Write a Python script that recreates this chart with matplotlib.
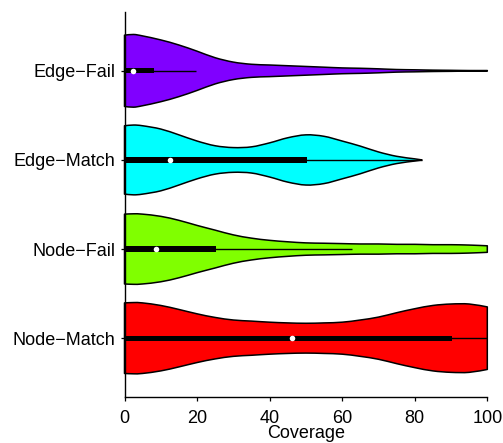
import matplotlib
matplotlib.use("Agg")
import matplotlib.pyplot as plt
from matplotlib.patches import Rectangle, PathPatch
from matplotlib.path import Path
import numpy as np

plt.rcParams['font.family'] = ['Liberation Sans', 'DejaVu Sans']

# ---------------- data ----------------
categories = ['Node\u2212Match', 'Node\u2212Fail', 'Edge\u2212Match', 'Edge\u2212Fail']
colors = ['#FF0000', '#80FF00', '#00FFFF', '#8000FF']

# coverage grid where violin density (relative to peak) was read
grid_full = [0, 2.5, 5, 10, 15, 20, 25, 30, 35, 40, 45, 50, 55, 60, 65, 70, 75, 80, 85, 90, 95, 100]
grid_edge_match = [0, 2.5, 5, 10, 15, 20, 25, 30, 35, 40, 45, 50, 55, 60, 65, 70, 75, 80, 82]

dens_node_match = [0.97, 0.98, 0.97, 0.90, 0.79, 0.67, 0.57, 0.50, 0.47, 0.44, 0.42,
                   0.41, 0.42, 0.44, 0.50, 0.58, 0.70, 0.81, 0.90, 0.94, 0.94, 0.86]
dens_node_fail = [0.96, 0.97, 0.96, 0.90, 0.79, 0.65, 0.52, 0.39, 0.30, 0.24, 0.20,
                  0.17, 0.16, 0.15, 0.14, 0.14, 0.13, 0.13, 0.12, 0.12, 0.11, 0.09]
dens_edge_match = [0.94, 0.96, 0.94, 0.85, 0.69, 0.52, 0.39, 0.34, 0.36, 0.47, 0.61,
                   0.69, 0.65, 0.52, 0.38, 0.22, 0.10, 0.03, 0.0]
dens_edge_fail = [0.98, 1.00, 0.96, 0.85, 0.71, 0.54, 0.36, 0.24, 0.18, 0.16, 0.14,
                  0.12, 0.10, 0.08, 0.07, 0.055, 0.036, 0.028, 0.019, 0.014, 0.008, 0.008]

grids = [grid_full, grid_full, grid_edge_match, grid_full]
densities = [dens_node_match, dens_node_fail, dens_edge_match, dens_edge_fail]

# box statistics: lower whisker, q1, median, q3, upper whisker
whisk_lo = [0, 0, 0, 0]
q1 = [0, 0, 0, 0]
medians = [46.3, 8.6, 12.5, 2.3]
q3 = [90.4, 25.1, 50.2, 8.1]
whisk_hi = [100, 62.7, 82, 19.6]

xticks = [0, 20, 40, 60, 80, 100]
xlabel = 'Coverage'

# ---------------- styling ----------------
VIOLIN_HW = 0.408   # half-width of a violin at peak density (category units)
BOX_HH = 0.030      # half-height of the box
FS = 13


def smooth_segments(pts):
    """Cubic Bezier (Catmull-Rom) path pieces through the given points."""
    pts = np.asarray(pts, dtype=float)
    n = len(pts)
    verts, codes = [], []
    for i in range(n - 1):
        p0 = pts[i - 1] if i > 0 else pts[i]
        p1 = pts[i]
        p2 = pts[i + 1]
        p3 = pts[i + 2] if i + 2 < n else pts[i + 1]
        c1 = p1 + (p2 - p0) / 6.0
        c2 = p2 - (p3 - p1) / 6.0
        verts += [tuple(c1), tuple(c2), tuple(p2)]
        codes += [Path.CURVE4] * 3
    return verts, codes


def violin_path(g, hw, pos):
    top = np.column_stack([g, pos + hw])
    bot = np.column_stack([g[::-1], pos - hw[::-1]])
    verts = [tuple(top[0])]
    codes = [Path.MOVETO]
    v, c = smooth_segments(top)
    verts += v
    codes += c
    verts.append(tuple(bot[0]))
    codes.append(Path.LINETO)
    v, c = smooth_segments(bot)
    verts += v
    codes += c
    verts.append(tuple(top[0]))
    codes.append(Path.CLOSEPOLY)
    return Path(verts, codes)


fig = plt.figure(figsize=(5.03, 4.43), dpi=100)
ax = fig.add_axes([124.5 / 503, 46 / 443, 362.8 / 503, 385 / 443])

positions = np.arange(1, len(categories) + 1)
for pos, g, d, c, wl, a, m, b, wh in zip(positions, grids, densities, colors,
                                          whisk_lo, q1, medians, q3, whisk_hi):
    g = np.asarray(g, dtype=float)
    hw = np.asarray(d, dtype=float) * VIOLIN_HW
    ax.add_patch(PathPatch(violin_path(g, hw, pos), facecolor=c, edgecolor='black',
                           linewidth=1.1, clip_on=False, zorder=2,
                           joinstyle='round'))
    ax.plot([wl, wh], [pos, pos], color='black', linewidth=1.0,
            solid_capstyle='butt', clip_on=False, zorder=3)
    ax.add_patch(Rectangle((a, pos - BOX_HH), b - a, 2 * BOX_HH, facecolor='black',
                           edgecolor='none', clip_on=False, zorder=4))
    ax.plot([m], [pos], 'o', color='white', markersize=4.0, markeredgewidth=0,
            clip_on=False, zorder=5)

ax.set_xlim(0, 100)
ax.set_ylim(0.34, len(categories) + 0.66)
ax.set_xticks(xticks)
ax.set_xticklabels([str(t) for t in xticks])
ax.set_yticks(positions)
ax.set_yticklabels(categories)

for s in ['top', 'right']:
    ax.spines[s].set_visible(False)
for s in ['left', 'bottom']:
    ax.spines[s].set_linewidth(1.0)
ax.tick_params(axis='both', direction='out', length=3.2, width=0.9,
               labelsize=FS, colors='black')
ax.tick_params(axis='x', pad=6)
ax.tick_params(axis='y', pad=3.2)
ax.set_xlabel(xlabel, fontsize=FS, labelpad=-1.5)

fig.savefig('out.png', dpi=100)
